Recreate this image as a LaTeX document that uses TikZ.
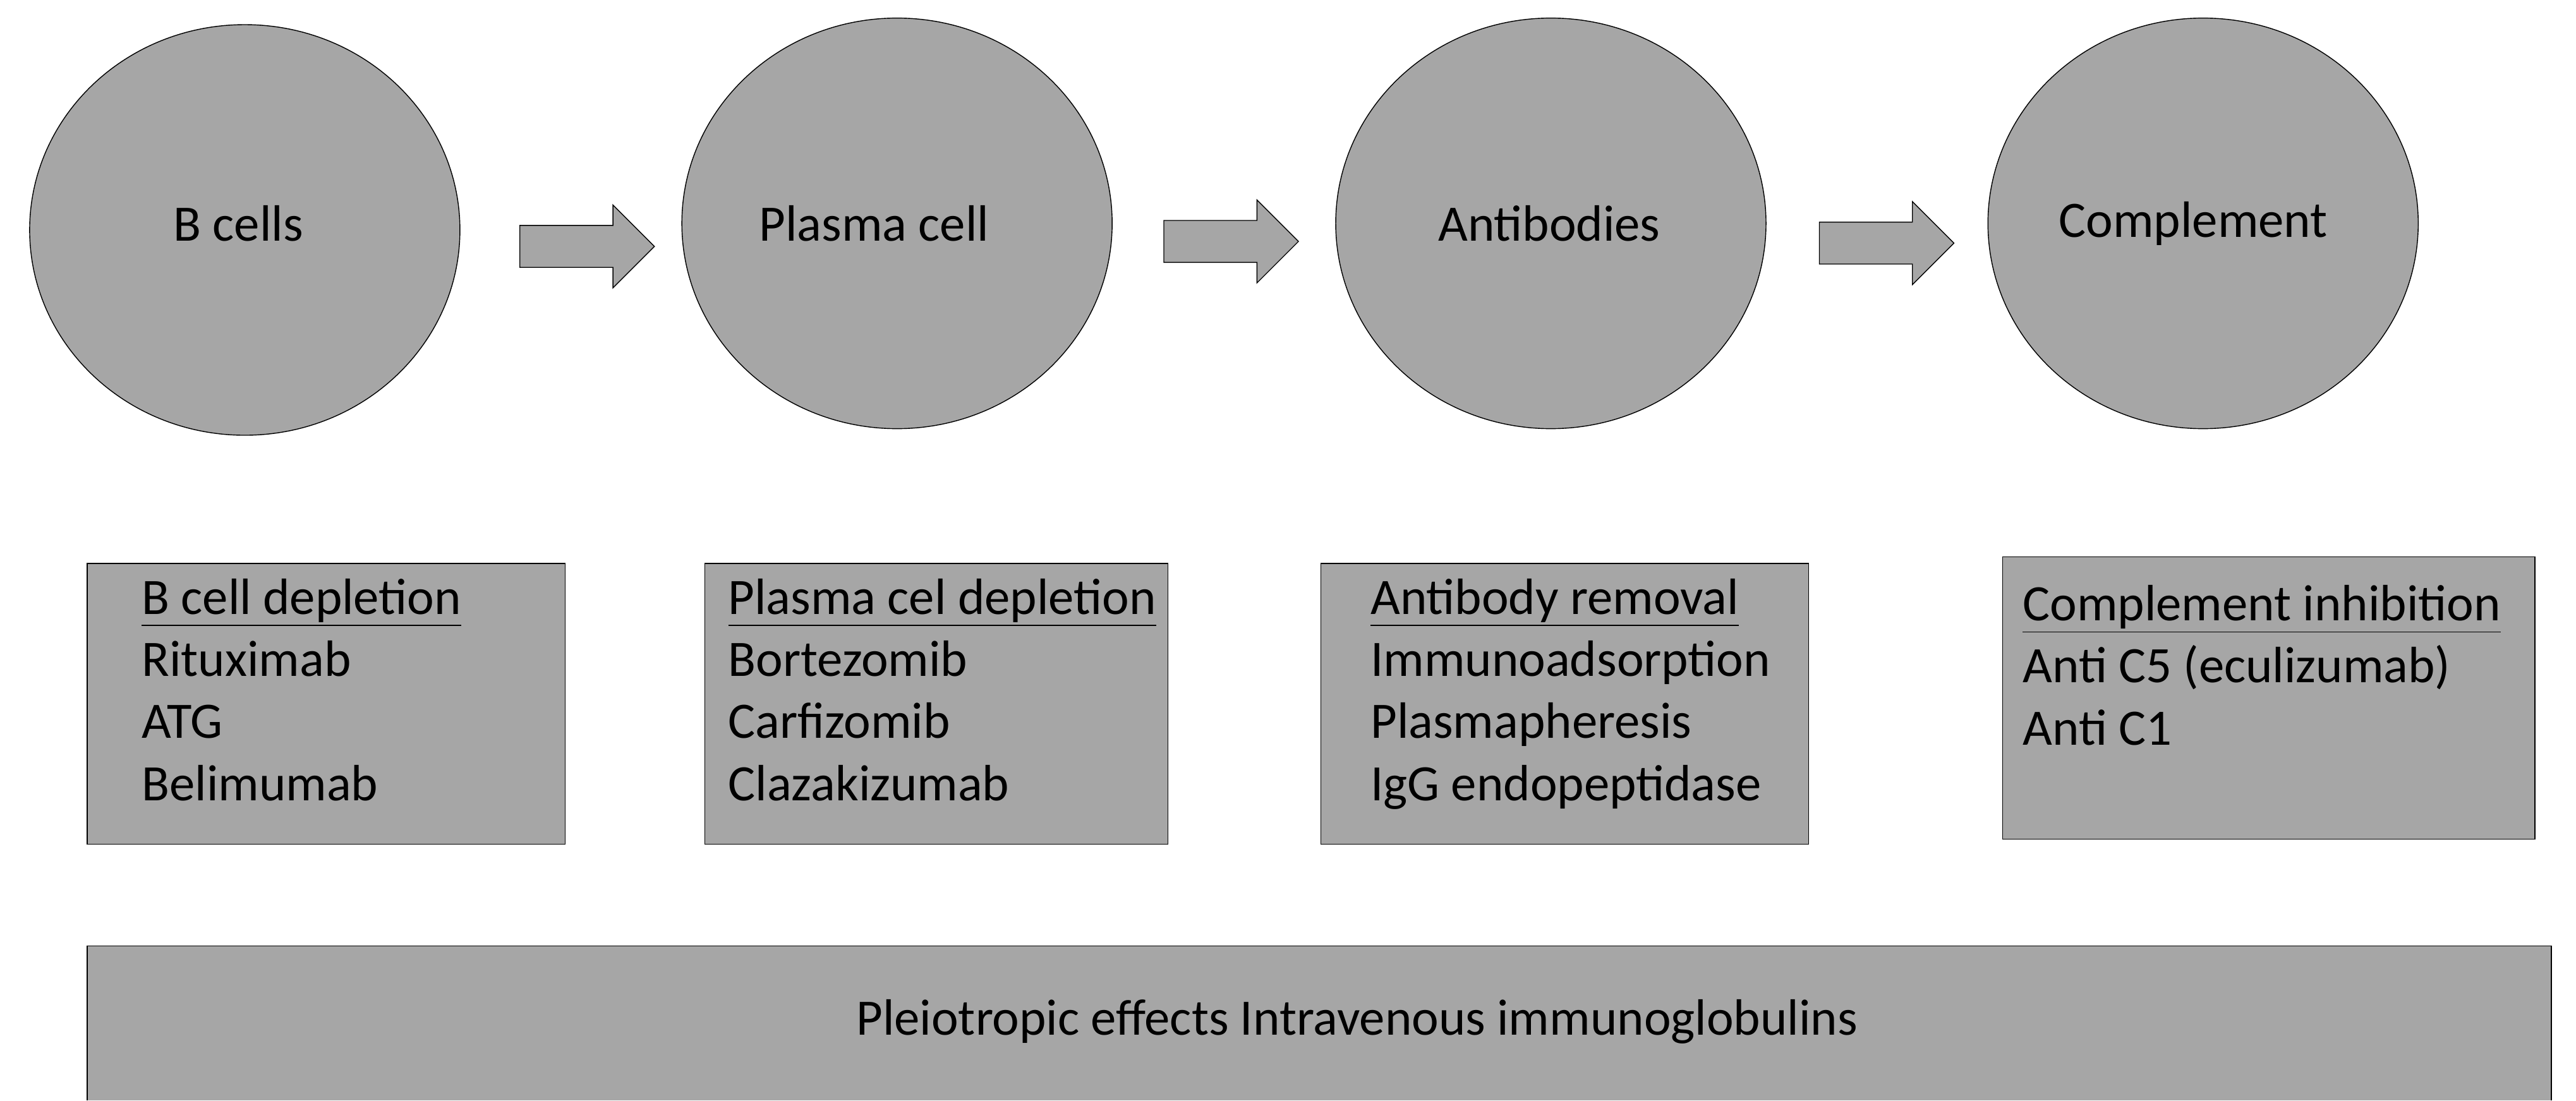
\documentclass[tikz,border=0pt]{standalone}
\usepackage{fontspec}
\setmainfont{Carlito}
\usetikzlibrary{shapes.geometric,shapes.arrows}
\definecolor{boxgray}{RGB}{166,166,166}
\tikzset{
  cell/.style={ellipse, draw, thin, fill=boxgray, minimum width=6.81cm, minimum height=6.5cm},
  blockarrow/.style={single arrow, draw, thin, fill=boxgray, inner sep=0.325cm, single arrow head extend=0.325cm, minimum height=2.13cm, shape border rotate=0},
  panel/.style={draw, thin, fill=boxgray},
  list/.style={anchor=north west, inner sep=0pt, align=left, font=\fontsize{23}{28}\selectfont}
}
\begin{document}
\begin{tikzpicture}[x=0.026cm,y=-0.026cm]
\useasboundingbox (0,0) rectangle (1568,670);

\node[cell] (c1) at (149,140) {};
\node[cell] (c2) at (546,136) {};
\node[cell] (c3) at (944,136) {};
\node[cell] (c4) at (1341,136) {};
\node[font=\fontsize{23}{28}\selectfont] at (145,136) {B cells};
\node[font=\fontsize{23}{28}\selectfont] at (532,136) {Plasma cell};
\node[font=\fontsize{23}{28}\selectfont] at (943,136) {Antibodies};
\node[font=\fontsize{23}{28}\selectfont] at (1335,136) {Complement};

\node[blockarrow] (a1) at (351,150) {};
\node[blockarrow] (a2) at (743,147) {};
\node[blockarrow] (a3) at (1142,148) {};

\draw[panel] (53,343) rectangle (344,514);
\draw[panel] (429,343) rectangle (711,514);
\draw[panel] (804,343) rectangle (1101,514);
\draw[panel] (1219,339) rectangle (1543,511);

\node[list] (l1) at (86,352) {\underline{B cell depletion}\\Rituximab\\ATG\\Belimumab};
\node[list] (l2) at (443,352) {\underline{Plasma cel depletion}\\Bortezomib\\Carfizomib\\Clazakizumab};
\node[list] (l3) at (834,352) {\underline{Antibody removal}\\Immunoadsorption\\Plasmapheresis\\IgG endopeptidase};
\node[list] (l4) at (1231,356) {\underline{Complement inhibition}\\Anti C5 (eculizumab)\\Anti C1};

\fill[boxgray] (53,576) rectangle (1553,670);
\draw[thin] (53,670) -- (53,576) -- (1553,576) -- (1553,670);
\node[font=\fontsize{23}{28}\selectfont] (ivig) at (826,622) {Pleiotropic effects Intravenous immunoglobulins};
\end{tikzpicture}
\end{document}
